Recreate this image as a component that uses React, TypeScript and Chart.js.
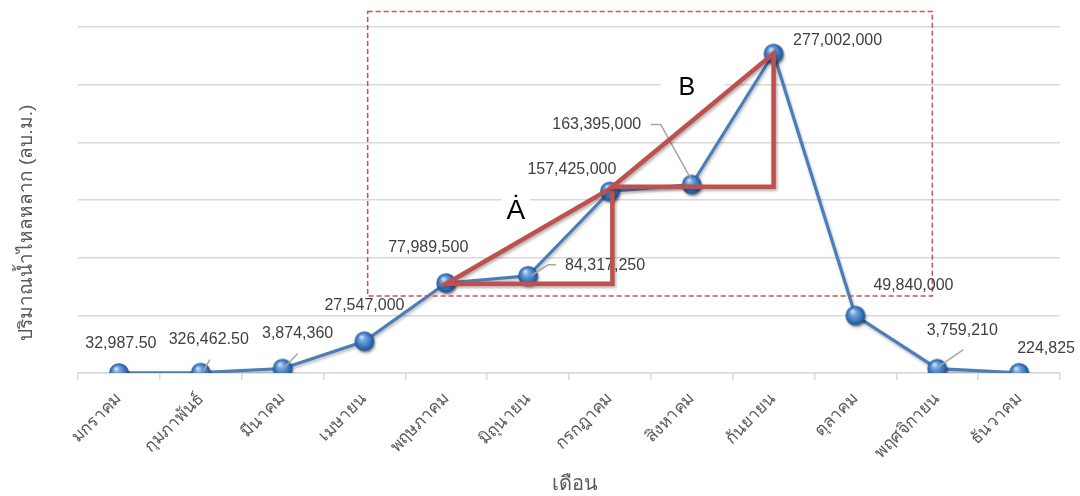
import { useEffect, useRef } from "react";
import { Chart, registerables } from "chart.js";

Chart.register(...registerables);

// Monthly runoff volume (cubic metres)
const months = [
  "มกราคม", "กุมภาพันธ์", "มีนาคม", "เมษายน", "พฤษภาคม", "มิถุนายน",
  "กรกฎาคม", "สิงหาคม", "กันยายน", "ตุลาคม", "พฤศจิกายน", "ธันวาคม",
];
const runoff = [
  32987.5, 326462.5, 3874360, 27547000, 77989500, 84317250,
  157425000, 163395000, 277002000, 49840000, 3759210, 224825,
];

const yTitle = "ปริมาณน้ำไหลหลาก (ลบ.ม.)";
const xTitle = "เดือน";
const yMax = 300000000;
const yStep = 50000000;

// Slope triangles drawn on top of the line: [category index, value]
const triangleA: [number, number][] = [[4, 77400000], [6.03, 161000000], [6.03, 77400000]];
const triangleB: [number, number][] = [[6.03, 161500000], [8, 277002000], [8, 161500000]];
const triangleLetters = ["Ȧ", "B"];
// Dashed frame around the rising segment: [index from, index to, value low, value high]
const frameBounds = [3.04, 9.94, 66700000, 313500000];

// Data label placement, pixel offsets from each point
const labelOffsets: [number, number][] = [
  [2, -29], [8, -33], [15, -35], [0, -36], [-18, -35], [77, -10],
  [-38, -22], [-95, -60], [64, -13], [58, -30], [25, -38], [27, -24],
];
// Leader lines (pixel offsets from the point), keyed by index
const leaders: Record<number, [number, number][]> = {
  1: [[3, -2], [9, -13]],
  2: [[1, 0], [15, -15]],
  5: [[3, 0], [20, -11], [28, -11]],
  7: [[-1, -6], [-31, -60], [-41, -60]],
  10: [[0, -1], [26, -19]],
};

const THAI_FONT = '"Liberation Sans", sans-serif';
const NUM_FONT = '"Liberation Sans", Arial, sans-serif';

function formatValue(v: number): string {
  const frac = Math.round(v * 100) % 100 !== 0;
  return v.toLocaleString("en-US", {
    minimumFractionDigits: frac ? 2 : 0,
    maximumFractionDigits: frac ? 2 : 0,
  });
}

function makeSphere(): HTMLCanvasElement {
  const size = 26;
  const c = document.createElement("canvas");
  c.width = size;
  c.height = size;
  const g = c.getContext("2d")!;
  const cx = 13, cy = 13, r = 9.8;
  g.fillStyle = "rgba(0,0,0,0.22)";
  g.beginPath();
  g.arc(cx + 1, cy + 1.8, r, 0, Math.PI * 2);
  g.fill();
  const grad = g.createRadialGradient(cx - 3, cy - 4.5, 0.5, cx, cy, r);
  grad.addColorStop(0, "#D2E4F8");
  grad.addColorStop(0.3, "#6FA2DD");
  grad.addColorStop(0.75, "#3371BA");
  grad.addColorStop(1, "#1E4F8E");
  g.fillStyle = grad;
  g.beginPath();
  g.arc(cx, cy, r, 0, Math.PI * 2);
  g.fill();
  return c;
}

const overlayPlugin = {
  id: "runoffOverlay",
  beforeDatasetsDraw(chart: any) {
    const ctx = chart.ctx;
    ctx.save();
    ctx.shadowColor = "rgba(0,0,0,0.28)";
    ctx.shadowBlur = 3;
    ctx.shadowOffsetX = 1;
    ctx.shadowOffsetY = 2;
  },
  afterDatasetsDraw(chart: any) {
    const ctx = chart.ctx;
    ctx.restore();
    const xs = chart.scales.x;
    const ys = chart.scales.y;
    const px = (i: number) => xs.getPixelForValue(i);
    const py = (v: number) => ys.getPixelForValue(v);

    // dashed frame
    ctx.save();
    ctx.strokeStyle = "#C8504D";
    ctx.lineWidth = 1.5;
    ctx.setLineDash([5, 3]);
    const fx1 = px(frameBounds[0]), fx2 = px(frameBounds[1]);
    const fy1 = py(frameBounds[3]), fy2 = py(frameBounds[2]);
    ctx.strokeRect(fx1, fy1, fx2 - fx1, fy2 - fy1);
    ctx.restore();

    // leader lines
    ctx.save();
    ctx.strokeStyle = "#A6A6A6";
    ctx.lineWidth = 1.5;
    Object.keys(leaders).forEach((k) => {
      const i = Number(k);
      const x0 = px(i), y0 = py(runoff[i]);
      const pts = leaders[i];
      ctx.beginPath();
      pts.forEach(([dx, dy], j) => {
        if (j === 0) ctx.moveTo(x0 + dx, y0 + dy);
        else ctx.lineTo(x0 + dx, y0 + dy);
      });
      ctx.stroke();
    });
    ctx.restore();

    // data labels
    ctx.save();
    ctx.fillStyle = "#404040";
    ctx.font = `16px ${NUM_FONT}`;
    ctx.textAlign = "center";
    ctx.textBaseline = "middle";
    runoff.forEach((v, i) => {
      const [dx, dy] = labelOffsets[i];
      ctx.fillText(formatValue(v), px(i) + dx, py(v) + dy);
    });
    ctx.restore();

    // white boxes behind the triangle letters
    const aX = px(4.85), aY = py(140000000);
    const bX = px(6.94), bY = py(247000000);
    ctx.save();
    ctx.fillStyle = "#FFFFFF";
    ctx.fillRect(aX - 14, aY - 14, 28, 30);
    ctx.fillRect(bX - 26, bY - 16, 64, 30);
    ctx.restore();

    // triangles
    ctx.save();
    ctx.strokeStyle = "#C0504D";
    ctx.lineWidth = 4.5;
    ctx.lineJoin = "miter";
    ctx.shadowColor = "rgba(0,0,0,0.3)";
    ctx.shadowBlur = 3;
    ctx.shadowOffsetX = 1.5;
    ctx.shadowOffsetY = 2;
    [triangleA, triangleB].forEach((tri) => {
      ctx.beginPath();
      tri.forEach(([i, v], j) => {
        if (j === 0) ctx.moveTo(px(i), py(v));
        else ctx.lineTo(px(i), py(v));
      });
      ctx.closePath();
      ctx.stroke();
    });
    ctx.restore();

    // letters
    ctx.save();
    ctx.fillStyle = "#000000";
    ctx.textAlign = "center";
    ctx.textBaseline = "middle";
    ctx.font = `28px ${NUM_FONT}`;
    ctx.fillText(triangleLetters[0], aX, aY);
    ctx.font = `25px ${NUM_FONT}`;
    ctx.fillText(triangleLetters[1], bX, bY);
    ctx.restore();
  },
  afterDraw(chart: any) {
    const ctx = chart.ctx;
    const area = chart.chartArea;
    ctx.save();
    ctx.fillStyle = "#595959";
    ctx.textAlign = "center";
    ctx.textBaseline = "middle";
    ctx.font = `20px ${THAI_FONT}`;
    ctx.fillText(xTitle, (area.left + area.right) / 2 + 6, 484);
    ctx.font = `19px ${THAI_FONT}`;
    ctx.translate(27, 223);
    ctx.rotate(-Math.PI / 2);
    ctx.fillText(yTitle, 0, 0);
    ctx.restore();
  },
};

export default function App() {
  const canvasRef = useRef<HTMLCanvasElement | null>(null);

  useEffect(() => {
    document.body.style.margin = "0";
    const canvas = canvasRef.current;
    if (!canvas) return;
    const sphere = makeSphere();
    const chart = new Chart(canvas, {
      type: "line",
      data: {
        labels: months,
        datasets: [
          {
            data: runoff,
            borderColor: "#4A7EBB",
            borderWidth: 3.2,
            tension: 0,
            pointStyle: sphere as any,
            pointRadius: 10,
            pointHoverRadius: 10,
          },
        ],
      },
      options: {
        responsive: false,
        animation: false,
        events: [],
        layout: { padding: { left: 0, right: 20, top: 27, bottom: 0 } },
        plugins: {
          legend: { display: false },
          tooltip: { enabled: false },
        },
        scales: {
          x: {
            offset: true,
            grid: {
              offset: true,
              drawOnChartArea: false,
              drawTicks: true,
              tickLength: 7,
              color: "#D9D9D9",
              lineWidth: 1.5,
            },
            border: { color: "#D9D9D9", width: 1.5 },
            ticks: {
              autoSkip: false,
              minRotation: 45,
              maxRotation: 45,
              padding: 9,
              color: "#595959",
              font: { size: 17, family: THAI_FONT },
            },
            afterFit: (scale: any) => {
              scale.height = 123;
            },
          },
          y: {
            min: 0,
            max: yMax,
            ticks: { display: false, stepSize: yStep },
            grid: { color: "#D9D9D9", lineWidth: 1.5, drawTicks: false },
            border: { display: false },
            afterFit: (scale: any) => {
              scale.width = 78;
            },
          },
        },
      },
      plugins: [overlayPlugin],
    });
    return () => chart.destroy();
  }, []);

  return (
    <canvas
      ref={canvasRef}
      width={1080}
      height={496}
      style={{ display: "block", width: 1080, height: 496 }}
    />
  );
}
